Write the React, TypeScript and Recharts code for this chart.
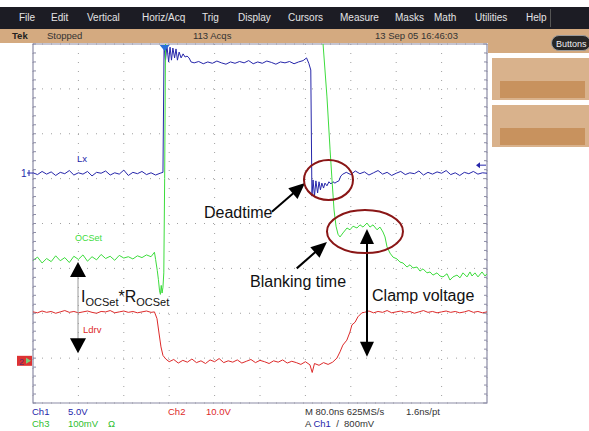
import React from 'react';
import { ComposedChart, Line, XAxis, YAxis, CartesianGrid, ReferenceDot, ReferenceLine, ReferenceArea } from 'recharts';

// time in ns (80 ns/div, 10 div), level in screen divisions (0 = bottom, 8 = top)
const majorTime = [0, 80, 160, 240, 320, 400, 480, 560, 640, 720, 800];
const minorTime = Array.from({ length: 51 }, (_, i) => i * 16);
const majorLevel = [0, 1, 2, 3, 4, 5, 6, 7, 8];
const minorLevel = Array.from({ length: 41 }, (_, i) => i * 0.2);

// Ch1 - Lx (switch node)
const lxTrace: [number, number][] = [
  [0, 5.13], [8, 5.09], [16, 5.16], [24, 5.10], [32, 5.15], [40, 5.07], [48, 5.14], [56, 5.11], [64, 5.18], [72, 5.08],
  [80, 5.13], [88, 5.10], [96, 5.16], [104, 5.06], [112, 5.14], [120, 5.12], [128, 5.17], [136, 5.08], [144, 5.13], [152, 5.10],
  [160, 5.19], [168, 5.07], [176, 5.14], [184, 5.11], [192, 5.16], [200, 5.09], [208, 5.13], [216, 5.08], [224, 5.12], [229, 5.14],
  [231, 7.96], [233.5, 7.64], [236, 7.96], [239, 7.60], [241.5, 7.93], [244, 7.64], [246.5, 7.91], [249.5, 7.69], [252, 7.89],
  [254.5, 7.64], [257.5, 7.82], [261, 7.69], [264.5, 7.78], [268, 7.71], [271.5, 7.73], [275, 7.69], [278.5, 7.60],
  [284, 7.58], [292, 7.61], [300, 7.56], [308, 7.60], [316, 7.57], [324, 7.62], [332, 7.58], [340, 7.55], [348, 7.60],
  [356, 7.57], [364, 7.61], [372, 7.58], [380, 7.63], [388, 7.56], [396, 7.60], [404, 7.57], [412, 7.62], [420, 7.59],
  [428, 7.55], [436, 7.60], [444, 7.58], [452, 7.61], [460, 7.56], [468, 7.60], [476, 7.63], [482, 7.69], [486, 7.57], [489.5, 7.42],
  [491.5, 4.61], [493.5, 4.97], [496, 4.61], [498.5, 4.95], [501.5, 4.68], [504, 4.93], [506.5, 4.75], [509, 4.90], [512, 4.79],
  [514.5, 4.90], [518, 4.84], [521.5, 4.93], [525, 4.88], [528.5, 4.93], [532, 4.90], [535.5, 4.93], [539, 4.95], [542.5, 5.06], [546, 5.10],
  [552, 5.14], [560, 5.09], [568, 5.17], [576, 5.11], [584, 5.15], [592, 5.08], [600, 5.13], [608, 5.18], [616, 5.10], [624, 5.14],
  [632, 5.07], [640, 5.12], [648, 5.16], [656, 5.09], [664, 5.13], [672, 5.11], [680, 5.17], [688, 5.08], [696, 5.14], [704, 5.10],
  [712, 5.15], [720, 5.12], [728, 5.18], [736, 5.09], [744, 5.13], [752, 5.07], [760, 5.14], [768, 5.11], [776, 5.16], [784, 5.10],
  [792, 5.13], [800, 5.12],
];

// Ch3 - OCSet
const ocsetTrace: [number, number][] = [
  [0, 3.18], [8, 3.25], [16, 3.12], [24, 3.22], [32, 3.15], [40, 3.28], [48, 3.17], [56, 3.24], [64, 3.13], [72, 3.27],
  [80, 3.20], [88, 3.30], [96, 3.16], [104, 3.26], [112, 3.19], [120, 3.31], [128, 3.22], [136, 3.27], [144, 3.18], [152, 3.29],
  [160, 3.23], [168, 3.26], [176, 3.21], [184, 3.28], [192, 3.24], [200, 3.30], [208, 3.26], [214, 3.36], [216, 3.20],
  [219, 2.95], [221, 2.75], [223, 2.50], [224.5, 2.42], [226, 2.62], [227.5, 2.45], [229, 2.58], [230.5, 2.90], [232, 5.0], [234, 9.0],
  [508, 9.0], [511, 8.02], [518, 6.82], [523.5, 5.64], [527, 4.95], [530.5, 4.30], [534, 3.94], [537.5, 3.76], [541, 3.70],
  [546.3, 3.79], [553.3, 3.90], [558.6, 3.86], [563.9, 3.94], [570.9, 3.90], [576.2, 3.97], [581.5, 3.92], [588.5, 4.01],
  [593.8, 3.92], [599.1, 3.97], [606.2, 3.86], [611.4, 3.92], [616.7, 3.81], [620.3, 3.70], [623.8, 3.48], [629.1, 3.34],
  [634.4, 3.25], [641.4, 3.21], [646.7, 3.14], [652, 3.12], [659, 3.03], [664.3, 3.08], [669.6, 3.01], [676.6, 3.03],
  [681.9, 2.94], [687.2, 2.99], [694.3, 2.90], [699.6, 2.92], [704.8, 2.85], [711.9, 2.90], [717.2, 2.83], [722.5, 2.81],
  [729.5, 2.88], [734.8, 2.74], [740.1, 2.81], [747.1, 2.85], [752.4, 2.79], [757.7, 2.90], [764.8, 2.81], [770, 2.92],
  [773.6, 2.83], [778.8, 2.90], [784.1, 2.81], [791.2, 2.92], [796.5, 2.83], [800, 2.88],
];

// Ch2 - Ldrv (low-side gate)
const ldrvTrace: [number, number][] = [
  [0, 2.03], [8, 2.01], [16, 2.05], [24, 2.02], [32, 2.04], [40, 2.00], [48, 2.03], [56, 2.06], [64, 2.02], [72, 2.04],
  [80, 2.01], [88, 2.03], [96, 2.05], [104, 2.02], [112, 2.00], [120, 2.04], [128, 2.03], [136, 2.06], [144, 2.01], [152, 2.03],
  [160, 2.05], [168, 2.02], [176, 2.04], [184, 2.01], [192, 2.03], [200, 2.05], [208, 2.02], [214, 2.03],
  [218.5, 1.88], [222, 1.56], [225.5, 1.25], [229, 1.06], [234, 0.98],
  [240, 0.92], [248, 0.97], [256, 0.89], [264, 0.95], [272, 0.91], [280, 0.98], [288, 0.90], [296, 0.94], [304, 0.88], [312, 0.96],
  [320, 0.92], [328, 0.99], [336, 0.90], [344, 0.94], [352, 0.91], [360, 0.96], [368, 0.89], [376, 0.93], [384, 0.97], [392, 0.90],
  [400, 0.95], [408, 0.92], [416, 0.88], [424, 0.94], [432, 0.91], [440, 0.96], [448, 0.89], [456, 0.93], [464, 0.90], [472, 0.86],
  [480, 0.92], [488, 0.85], [492, 0.68], [496, 0.88], [504, 0.84], [512, 0.90], [520, 0.86], [528, 0.91],
  [535.5, 1.00], [541, 1.14], [546, 1.29], [553, 1.40], [558.5, 1.58], [562, 1.74], [567.5, 1.80], [572.5, 1.92], [579.5, 2.01],
  [584, 2.02], [592, 2.05], [600, 2.01], [608, 2.04], [616, 2.02], [624, 2.06], [632, 2.01], [640, 2.03], [648, 2.05], [656, 2.02],
  [664, 2.04], [672, 2.00], [680, 2.03], [688, 2.06], [696, 2.02], [704, 2.04], [712, 2.01], [720, 2.03], [728, 2.05], [736, 2.02],
  [744, 2.04], [752, 2.01], [760, 2.03], [768, 2.06], [776, 2.02], [784, 2.04], [792, 2.01], [800, 2.03],
];

const menuItems = ['File', 'Edit', 'Vertical', 'Horiz/Acq', 'Trig', 'Display', 'Cursors', 'Measure', 'Masks', 'Math', 'Utilities', 'Help'];
const menuX = [19, 51, 87, 142, 202, 238, 288, 340, 395, 434, 475, 526];

const toRows = (tr: [number, number][]) => tr.map(([t, v]) => ({ t, v }));

const BLUE = '#2626aa';
const GREEN = '#3ddc3d';
const RED = '#dd2a2a';
const GRID = '#8c8ca6';
const FONT = '"Liberation Sans", Arial, sans-serif';

const arrowShape = (color: string, width: number, len: number, half: number, both: boolean, shaft?: string) => (p: any) => {
  const { x1, y1, x2, y2 } = p;
  const a = Math.atan2(y2 - y1, x2 - x1);
  const head = (x: number, y: number, ang: number) => {
    const bx = x - len * Math.cos(ang);
    const by = y - len * Math.sin(ang);
    const ox = -Math.sin(ang) * half;
    const oy = Math.cos(ang) * half;
    return `${x},${y} ${bx + ox},${by + oy} ${bx - ox},${by - oy}`;
  };
  const s = len * 0.8;
  const sx1 = both ? x1 + s * Math.cos(a) : x1;
  const sy1 = both ? y1 + s * Math.sin(a) : y1;
  return (
    <g>
      <line x1={sx1} y1={sy1} x2={x2 - s * Math.cos(a)} y2={y2 - s * Math.sin(a)} stroke={shaft ?? color} strokeWidth={width} />
      <polygon points={head(x2, y2, a)} fill={color} />
      {both && <polygon points={head(x1, y1, a + Math.PI)} fill={color} />}
    </g>
  );
};

const textShape = (content: React.ReactNode, color: string, size: number) => (p: any) => (
  <text x={p.cx} y={p.cy} fill={color} fontSize={size} fontFamily={FONT}>{content}</text>
);

const ellipseShape = (rx: number, ry: number) => (p: any) => (
  <ellipse cx={p.cx} cy={p.cy} rx={rx} ry={ry} fill="none" stroke="#8a1616" strokeWidth={2} />
);

const noTick = () => '';

const App: React.FC = () => {
  return (
    <div style={{ position: 'absolute', left: 0, top: 0, width: 589, height: 431, background: '#fff', overflow: 'hidden', fontFamily: FONT }}>
      {/* menu bar */}
      <div style={{ position: 'absolute', left: 0, top: 7, width: 589, height: 22, background: '#1c1c24' }} />
      {menuItems.map((m, i) => (
        <span key={m} style={{ position: 'absolute', left: menuX[i], top: 7, lineHeight: '22px', fontSize: 10, color: '#e4e4e4' }}>{m}</span>
      ))}
      <div style={{ position: 'absolute', left: 550, top: 9, width: 1, height: 18, background: '#555' }} />
      {/* status bar */}
      <div style={{ position: 'absolute', left: 0, top: 29, width: 589, height: 14, background: '#d4aa80' }} />
      <div style={{ position: 'absolute', left: 488, top: 43, width: 101, height: 10, background: '#d4aa80' }} />
      <span style={{ position: 'absolute', left: 12, top: 29, lineHeight: '14px', fontSize: 9.5, color: '#222', fontWeight: 'bold' }}>Tek</span>
      <span style={{ position: 'absolute', left: 47, top: 29, lineHeight: '14px', fontSize: 9.5, color: '#333' }}>Stopped</span>
      <span style={{ position: 'absolute', left: 193, top: 29, lineHeight: '14px', fontSize: 9.5, color: '#333' }}>113 Acqs</span>
      <span style={{ position: 'absolute', left: 375, top: 29, lineHeight: '14px', fontSize: 9.5, color: '#333' }}>13 Sep 05 16:46:03</span>
      <div style={{ position: 'absolute', left: 551, top: 35, width: 40, height: 16, borderRadius: 9, background: '#262626', border: '1px solid #999', color: '#eee', fontSize: 9, lineHeight: '16px', paddingLeft: 4, boxSizing: 'border-box' }}>Buttons</div>
      {/* right side panels */}
      <div style={{ position: 'absolute', left: 492, top: 58, width: 97, height: 42, background: '#d9b28c' }} />
      <div style={{ position: 'absolute', left: 500, top: 81, width: 85, height: 17, background: '#c8925e' }} />
      <div style={{ position: 'absolute', left: 492, top: 105, width: 97, height: 42, background: '#d9b28c' }} />
      <div style={{ position: 'absolute', left: 500, top: 128, width: 85, height: 17, background: '#c8925e' }} />

      <div style={{ position: 'absolute', left: 0, top: 0 }}>
        <ComposedChart width={589} height={431} margin={{ top: 44, right: 102, bottom: 28, left: 33 }}>
          <XAxis dataKey="t" type="number" domain={[0, 800]} ticks={majorTime} allowDataOverflow hide />
          <YAxis type="number" domain={[0, 8]} ticks={majorLevel} allowDataOverflow hide />
          <XAxis xAxisId="tb" type="number" domain={[0, 800]} ticks={minorTime} interval={0} orientation="bottom" mirror allowDataOverflow
            axisLine={false} tickLine={{ stroke: GRID }} tickSize={3} tickFormatter={noTick} />
          <XAxis xAxisId="tt" type="number" domain={[0, 800]} ticks={minorTime} interval={0} orientation="top" mirror allowDataOverflow
            axisLine={false} tickLine={{ stroke: GRID }} tickSize={3} tickFormatter={noTick} />
          <YAxis yAxisId="vl" type="number" domain={[0, 8]} ticks={minorLevel} interval={0} orientation="left" mirror allowDataOverflow
            axisLine={false} tickLine={{ stroke: GRID }} tickSize={3} tickFormatter={noTick} />
          <YAxis yAxisId="vr" type="number" domain={[0, 8]} ticks={minorLevel} interval={0} orientation="right" mirror allowDataOverflow
            axisLine={false} tickLine={{ stroke: GRID }} tickSize={3} tickFormatter={noTick} />
          <CartesianGrid stroke="#a0a0a0" strokeDasharray="1 8" />
          <ReferenceArea x1={0} x2={800} y1={0} y2={8} fill="none" fillOpacity={0} stroke={GRID} strokeWidth={1.2} />

          <Line data={toRows(lxTrace)} dataKey="v" type="linear" stroke={BLUE} strokeWidth={1} dot={false} activeDot={false} isAnimationActive={false} />
          <Line data={toRows(ldrvTrace)} dataKey="v" type="linear" stroke={RED} strokeWidth={1} dot={false} activeDot={false} isAnimationActive={false} />
          <Line data={toRows(ocsetTrace)} dataKey="v" type="linear" stroke={GREEN} strokeWidth={1} dot={false} activeDot={false} isAnimationActive={false} />

          {/* channel labels and markers */}
          <ReferenceDot x={77.5} y={5.38} r={1} shape={textShape('Lx', BLUE, 9.5)} />
          <ReferenceDot x={74} y={3.6} r={1} shape={textShape('OCSet', GREEN, 9)} />
          <ReferenceDot x={88} y={1.57} r={1} shape={textShape('Ldrv', RED, 9.5)} />
          <ReferenceDot x={0} y={5.125} r={1} shape={(p: any) => (
            <g>
              <text x={p.cx - 12} y={p.cy + 4} fontSize={10} fill={BLUE} fontFamily={FONT}>1</text>
              <line x1={p.cx - 6} x2={p.cx} y1={p.cy} y2={p.cy} stroke={BLUE} />
              <line x1={p.cx - 4} x2={p.cx - 4} y1={p.cy - 3} y2={p.cy + 3} stroke={BLUE} />
            </g>
          )} />
          <ReferenceDot x={0} y={0.94} r={1} shape={(p: any) => (
            <g>
              <rect x={p.cx - 16} y={p.cy - 5} width={15} height={10} fill="#dd3333" />
              <text x={p.cx - 14} y={p.cy + 4} fontSize={9} fill="#6a2a6a" fontFamily={FONT}>2</text>
              <polygon points={`${p.cx - 7},${p.cy - 3} ${p.cx - 2},${p.cy} ${p.cx - 7},${p.cy + 3}`} fill="#7ad07a" />
            </g>
          )} />
          <ReferenceDot x={800} y={5.3} r={1} shape={(p: any) => (
            <g>
              <line x1={p.cx - 9} x2={p.cx - 1} y1={p.cy} y2={p.cy} stroke={BLUE} />
              <polygon points={`${p.cx - 11},${p.cy} ${p.cx - 7},${p.cy - 3} ${p.cx - 7},${p.cy + 3}`} fill={BLUE} />
            </g>
          )} />
          <ReferenceDot x={232} y={8} r={1} shape={(p: any) => (
            <polygon points={`${p.cx - 5},${p.cy + 1} ${p.cx + 5},${p.cy + 1} ${p.cx},${p.cy + 7}`} fill="#2a70d8" />
          )} />

          {/* annotations */}
          <ReferenceLine segment={[{ x: 79.3, y: 3.14 }, { x: 79.3, y: 1.11 }]} shape={arrowShape('#000', 1, 15, 8, true, '#9a9a9a')} />
          <ReferenceDot x={84.6} y={2.25} r={1} shape={(p: any) => (
            <text x={p.cx} y={p.cy} fill="#111" fontSize={16} fontFamily={FONT}>
              I<tspan fontSize={11} dy={4}>OCSet</tspan><tspan fontSize={16} dy={-4}>*R</tspan><tspan fontSize={11} dy={4}>OCSet</tspan>
            </text>
          )} />

          <ReferenceDot x={520.7} y={4.97} r={1} shape={ellipseShape(24.5, 20)} />
          <ReferenceDot x={585} y={3.82} r={1} shape={ellipseShape(38, 21.5)} />

          <ReferenceDot x={301.3} y={4.12} r={1} shape={textShape('Deadtime', '#111', 16)} />
          <ReferenceLine segment={[{ x: 421, y: 4.26 }, { x: 479.3, y: 4.9 }]} shape={arrowShape('#000', 2, 16, 7, false)} />

          <ReferenceDot x={382.4} y={2.58} r={1} shape={textShape('Blanking time', '#111', 16)} />
          <ReferenceLine segment={[{ x: 464.7, y: 3.0 }, { x: 518, y: 3.59 }]} shape={arrowShape('#000', 2, 16, 7, false)} />

          <ReferenceDot x={597.4} y={2.27} r={1} shape={textShape('Clamp voltage', '#111', 16)} />
          <ReferenceLine segment={[{ x: 588.5, y: 3.88 }, { x: 588.5, y: 1.03 }]} shape={arrowShape('#000', 2, 15, 7, true)} />
        </ComposedChart>
      </div>

      {/* channel readouts */}
      <span style={{ position: 'absolute', left: 32, top: 406, lineHeight: '12px', fontSize: 9.5, color: BLUE }}>Ch1</span>
      <span style={{ position: 'absolute', left: 68, top: 406, lineHeight: '12px', fontSize: 9.5, color: BLUE }}>5.0V</span>
      <span style={{ position: 'absolute', left: 168, top: 406, lineHeight: '12px', fontSize: 9.5, color: RED }}>Ch2</span>
      <span style={{ position: 'absolute', left: 206, top: 406, lineHeight: '12px', fontSize: 9.5, color: RED }}>10.0V</span>
      <span style={{ position: 'absolute', left: 305, top: 406, lineHeight: '12px', fontSize: 9.5, color: '#333' }}>M 80.0ns 625MS/s</span>
      <span style={{ position: 'absolute', left: 406, top: 406, lineHeight: '12px', fontSize: 9.5, color: '#333' }}>1.6ns/pt</span>
      <span style={{ position: 'absolute', left: 32, top: 418, lineHeight: '12px', fontSize: 9.5, color: '#2fc02f' }}>Ch3</span>
      <span style={{ position: 'absolute', left: 68, top: 418, lineHeight: '12px', fontSize: 9.5, color: '#2fc02f' }}>100mV</span>
      <span style={{ position: 'absolute', left: 108, top: 418, lineHeight: '12px', fontSize: 9.5, color: '#2fc02f' }}>Ω</span>
      <span style={{ position: 'absolute', left: 305, top: 418, lineHeight: '12px', fontSize: 9.5, color: '#333' }}>
        A <span style={{ color: BLUE }}>Ch1</span>&nbsp;&nbsp;/&nbsp;&nbsp;800mV
      </span>
    </div>
  );
};

export default App;
